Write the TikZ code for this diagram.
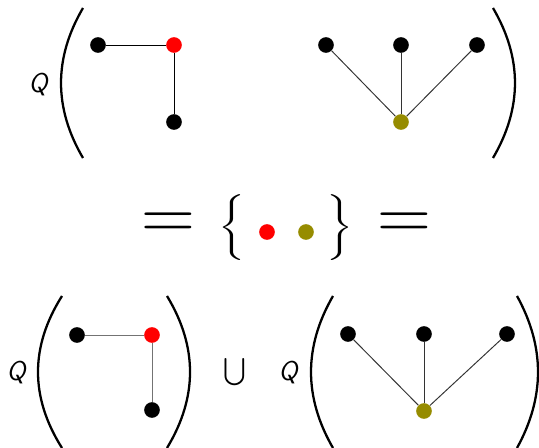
\documentclass[tikz,border=0pt]{standalone}
\usepackage{tikz}
\usepackage{amsmath,amssymb}
\usepackage{xcolor}
\usetikzlibrary{positioning}
\definecolor{dotred}{RGB}{255,0,0}
\definecolor{dotolive}{RGB}{150,140,0}

\begin{document}
\begin{tikzpicture}[x=0.02cm, y=-0.02cm]
  \tikzset{
    dot/.style={circle, fill=black, inner sep=0pt, minimum size=8.9pt},
    edge/.style={draw=black!80, line width=0.55pt},
    paren/.style={line width=1.3pt},
    qlabel/.style={font=\fontsize{15.5}{18}\selectfont\sffamily\itshape, inner sep=0pt},
    eqsign/.style={font=\fontsize{42.5}{44}\selectfont, inner sep=0pt},
    brace/.style={xscale=1.9, yscale=1.25, transform shape, inner sep=0pt}
  }
  \useasboundingbox (0,0) rectangle (539,448);

  % top row
  \node[qlabel] (qtop) at (38,85) {Q};
  \draw[paren] (83,8) .. controls (53.7,58) and (53.7,108) .. (83,158);
  \draw[paren] (493,8) .. controls (522.3,58) and (522.3,108) .. (493,158);

  \node[dot]                 (ta) at (98,45)  {};
  \node[dot, fill=dotred]    (tb) at (174,45) {};
  \node[dot]                 (tc) at (174,122) {};
  \draw[edge, draw=black] (ta) -- (tb);
  \draw[edge, draw=black] (tb) -- (tc);

  \node[dot]                 (tl) at (326,45) {};
  \node[dot]                 (tm) at (401,45) {};
  \node[dot]                 (tr) at (477,45) {};
  \node[dot, fill=dotolive]  (tx) at (401,122) {};
  \foreach \n in {tl,tm,tr}
    \draw[edge] (\n) -- (tx);

  % middle row
  \node[eqsign] (eqleft) at (168,226) {=};
  \node[brace] (bleft) at (232,228) {$\Bigg\{$};
  \node[dot, fill=dotred]   (mred)   at (267,232) {};
  \node[dot, fill=dotolive] (molive) at (306,232) {};
  \node[brace] (bright) at (340,228) {$\Bigg\}$};
  \node[eqsign] (eqright) at (404,226) {=};

  % bottom row
  \node[qlabel] (qleft) at (16,373) {Q};
  \draw[paren] (62,296) .. controls (30,346.7) and (30,397.3) .. (62,448);
  \draw[paren] (167,296) .. controls (197.7,346.7) and (197.7,397.3) .. (167,448);

  \node[dot]                 (ba) at (77,335)  {};
  \node[dot, fill=dotred]    (bb) at (152,335) {};
  \node[dot]                 (bc) at (152,410) {};
  \draw[edge, draw=black!55] (ba) -- (bb);
  \draw[edge, draw=black!55] (bb) -- (bc);

  \node[scale=1.55, transform shape, inner sep=0pt] (cup) at (235,372) {$\textstyle\bigcup$};

  \node[qlabel] (qright) at (288,373) {Q};
  \draw[paren] (333,296) .. controls (303.7,346.7) and (303.7,397.3) .. (333,448);
  \draw[paren] (517,296) .. controls (545,346.7) and (545,397.3) .. (517,448);

  \node[dot]                 (bl) at (348,334) {};
  \node[dot]                 (bm) at (424,334) {};
  \node[dot]                 (br) at (507,334) {};
  \node[dot, fill=dotolive]  (bx) at (424,411) {};
  \foreach \n in {bl,bm,br}
    \draw[edge] (\n) -- (bx);
\end{tikzpicture}
\end{document}
